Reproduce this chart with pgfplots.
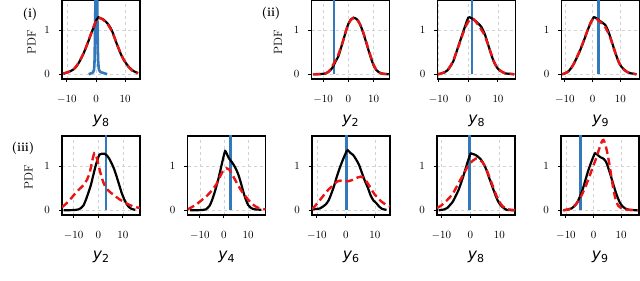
\documentclass[border=0pt]{standalone}
\usepackage{pgfplots}
\pgfplotsset{compat=1.18}
\usepackage{fontspec}
\newfontfamily\dv{DejaVu Sans}
\definecolor{mblue}{RGB}{49,121,186}
\definecolor{mred}{RGB}{235,20,20}
\newcommand{\yl}[1]{{\fontsize{15.5}{18}\selectfont\dv\itshape y\raisebox{-0.22em}{\fontsize{11}{12}\selectfont\upshape #1}}}
\pgfplotsset{
  panel/.style={scale only axis, width=78pt, height=79pt, anchor=south west,
    ymin=-0.107, ymax=1.68, ytick={0,1}, xtick={-10,0,10},
    axis line style={line width=1.2pt},
    tick style={line width=1pt, black}, tick align=outside, major tick length=3.5pt,
    tick pos=left,
    grid=major, major grid style={dashed, gray!35, line width=0.6pt},
    tick label style={font=\fontsize{11}{12}\selectfont},
    xticklabel style={yshift=-9pt},
    yticklabel style={xshift=-5pt},
    label style={font=\fontsize{11}{12}\selectfont},
    xlabel style={yshift=-5pt},
  },
  tru/.style={black, line width=2.2pt, smooth, tension=0.5},
  est/.style={mred, line width=2.4pt, smooth, tension=0.5, dash pattern=on 7.5pt off 4pt},
  obs/.style={mblue, line width=2.6pt},
}
\begin{document}
\begin{tikzpicture}
\path[use as bounding box] (0,0) rectangle (640pt,281pt);
% (i) y8
\begin{axis}[panel, at={(62pt,202pt)}, xmin=-11.7, xmax=15.1, xlabel={\yl{8}}]
\addplot[obs, smooth, tension=0.4] coordinates {(-2.5,0) (-2,0.015) (-1.5,0.025) (-1,0.045) (-0.7,0.1) (-0.5,0.35) (-0.3,1.2) (-0.1,2.2) (0.1,2.5) (0.3,2.1) (0.5,1.1) (0.7,0.35) (1,0.1) (1.5,0.05) (2.5,0.03) (3.2,0.015) (3.8,0)};
\addplot[tru] coordinates {(-11.2,0.01) (-10.5,0.03) (-9.5,0.05) (-8.5,0.08) (-7.5,0.12) (-6.5,0.2) (-5.5,0.31) (-4.5,0.44) (-3.5,0.6) (-2.5,0.77) (-1.5,0.95) (-0.5,1.12) (0.2,1.24) (0.8,1.29) (1.5,1.27) (2.5,1.24) (3.5,1.18) (4.5,1.1) (5.5,0.98) (6.5,0.8) (7.5,0.62) (8.5,0.46) (9.5,0.33) (10.5,0.23) (11.5,0.15) (12.5,0.09) (13.5,0.05) (14.4,0.03)};
\addplot[est] coordinates {(-11.4,0.02) (-10.5,0.03) (-9.5,0.05) (-8.5,0.08) (-7.5,0.13) (-6.5,0.21) (-5.5,0.32) (-4.5,0.45) (-3.5,0.6) (-2.5,0.78) (-1.5,0.96) (-0.5,1.13) (0.2,1.23) (0.8,1.27) (1.5,1.27) (2.5,1.23) (3.5,1.17) (4.5,1.08) (5.5,0.96) (6.5,0.8) (7.5,0.63) (8.5,0.47) (9.5,0.33) (10.5,0.22) (11.5,0.14) (12.5,0.08) (13.5,0.04) (14.5,0.02)};
\end{axis}
% (ii) y2
\begin{axis}[panel, at={(311.5pt,202pt)}, xmin=-14.6, xmax=16.3, xlabel={\yl{2}}]
\addplot[obs] coordinates {(-5.7,0) (-5.7,1.8)};
\addplot[tru] coordinates {(-14,0) (-11,0.005) (-9,0.02) (-8,0.05) (-7,0.1) (-6,0.18) (-5,0.3) (-4,0.4) (-3,0.58) (-2,0.77) (-1,0.97) (0,1.14) (1,1.24) (2,1.28) (3,1.26) (4,1.2) (5,1.08) (6,0.92) (7,0.73) (8,0.54) (9,0.36) (10,0.2) (11,0.1) (12,0.05) (13,0.02) (14,0.01) (16,0)};
\addplot[est] coordinates {(-14,0) (-11,0.005) (-9,0.02) (-8,0.05) (-7,0.12) (-6,0.22) (-5,0.33) (-4,0.44) (-3,0.6) (-2,0.78) (-1,0.97) (0,1.13) (1,1.23) (2,1.27) (3,1.26) (4,1.19) (5,1.08) (6,0.93) (7,0.75) (8,0.56) (9,0.38) (10,0.22) (11,0.11) (12,0.05) (13,0.02) (14,0.01) (16,0)};
\end{axis}
% (ii) y8
\begin{axis}[panel, at={(437.5pt,202pt)}, xmin=-10.35, xmax=15.9, xlabel={\yl{8}}]
\addplot[obs] coordinates {(1.2,0) (1.2,1.8)};
\addplot[tru] coordinates {(-10.2,0) (-9,0.02) (-8,0.04) (-7,0.09) (-6,0.18) (-5,0.3) (-4,0.5) (-3,0.7) (-2,0.9) (-1,1.1) (0,1.28) (0.5,1.29) (1.5,1.25) (2.5,1.2) (3.5,1.14) (4.5,1.06) (5.5,0.92) (6.5,0.71) (7.5,0.5) (8.5,0.3) (9.5,0.17) (10.5,0.09) (11.5,0.05) (12.5,0.02) (14,0.01) (15.5,0)};
\addplot[est] coordinates {(-10.2,0) (-9,0.02) (-8,0.05) (-7,0.1) (-6,0.19) (-5,0.32) (-4,0.5) (-3,0.69) (-2,0.88) (-1,1.06) (0,1.19) (1,1.24) (1.7,1.25) (2.5,1.19) (3.5,1.1) (4.5,1.0) (5.5,0.88) (6.5,0.7) (7.5,0.5) (8.5,0.31) (9.5,0.18) (10.5,0.1) (11.5,0.05) (12.5,0.02) (14,0.01) (15.5,0)};
\end{axis}
% (ii) y9
\begin{axis}[panel, at={(561.5pt,202pt)}, xmin=-11.2, xmax=16.9, xlabel={\yl{9}}]
\addplot[obs] coordinates {(2.1,0) (2.1,1.8)};
\addplot[tru] coordinates {(-11,0) (-10,0.02) (-9,0.05) (-8.5,0.08) (-7.5,0.16) (-6.5,0.27) (-5.5,0.4) (-4.5,0.54) (-3.5,0.7) (-2.5,0.87) (-1.5,1.04) (-0.5,1.19) (0.5,1.29) (1.5,1.26) (2.5,1.21) (3.5,1.17) (4.5,1.12) (5.5,1.0) (6.5,0.82) (7.5,0.62) (8.5,0.43) (9.5,0.26) (10.5,0.16) (11.5,0.1) (12.5,0.05) (14,0.02) (15.8,0)};
\addplot[est] coordinates {(-11,0) (-10,0.02) (-9,0.05) (-8.5,0.08) (-7.5,0.16) (-6.5,0.27) (-5.5,0.41) (-4.5,0.55) (-3.5,0.71) (-2.5,0.88) (-1.5,1.05) (-0.5,1.19) (0.5,1.27) (1.5,1.25) (2.5,1.2) (3.5,1.14) (4.5,1.07) (5.5,0.95) (6.5,0.8) (7.5,0.61) (8.5,0.43) (9.5,0.27) (10.5,0.16) (11.5,0.09) (12.5,0.05) (14,0.02) (15.8,0)};
\end{axis}
% (iii) y2
\begin{axis}[panel, at={(62pt,66pt)}, xmin=-14.7, xmax=16.9, xlabel={\yl{2}}]
\addplot[obs] coordinates {(3.1,0) (3.1,1.8)};
\addplot[tru] coordinates {(-14,0) (-10,0.005) (-8,0.02) (-7,0.05) (-6,0.11) (-5,0.24) (-4,0.4) (-3,0.57) (-2,0.8) (-1,1.02) (0,1.2) (0.5,1.26) (1.5,1.28) (2.5,1.28) (3.5,1.24) (4.5,1.16) (5.5,1.05) (6.5,0.92) (7.5,0.75) (8.5,0.57) (9.5,0.39) (10.5,0.25) (11.5,0.14) (12.5,0.07) (13.5,0.03) (15,0.01)};
\addplot[est] coordinates {(-14.7,0.07) (-13,0.15) (-11,0.27) (-9.5,0.37) (-8,0.46) (-6,0.57) (-4.5,0.7) (-3.5,0.85) (-2.8,1.02) (-2.2,1.18) (-1.6,1.29) (-1,1.25) (-0.3,1.12) (0.4,0.95) (1,0.82) (2,0.64) (3,0.52) (4,0.45) (5,0.4) (6,0.36) (8,0.27) (10,0.2) (12,0.14) (14,0.09) (16.9,0.05)};
\end{axis}
% (iii) y4
\begin{axis}[panel, at={(187.5pt,66pt)}, xmin=-15.1, xmax=17.2, xlabel={\yl{4}}]
\addplot[obs] coordinates {(2.75,0) (2.75,1.8)};
\addplot[tru] coordinates {(-14,0) (-9,0.005) (-7.5,0.02) (-6,0.1) (-5,0.22) (-4,0.38) (-3,0.57) (-2,0.78) (-1,1.02) (0,1.25) (0.5,1.34) (1,1.3) (2,1.18) (3,1.11) (4,1.03) (5,0.93) (6,0.8) (7,0.62) (8,0.42) (9,0.25) (10,0.12) (11,0.06) (12,0.03) (13,0.02) (15.5,0.01)};
\addplot[est] coordinates {(-15.1,0.02) (-13,0.08) (-11,0.15) (-9,0.24) (-7,0.33) (-5,0.45) (-3,0.6) (-2,0.72) (-1,0.83) (0,0.92) (1,0.95) (2,0.93) (3,0.85) (4,0.75) (5,0.65) (6,0.55) (7,0.46) (8,0.38) (9,0.31) (10,0.24) (11,0.18) (12,0.13) (13,0.09) (14,0.06) (15,0.04) (17.2,0.02)};
\end{axis}
% (iii) y6
\begin{axis}[panel, at={(312pt,66pt)}, xmin=-11.7, xmax=15.2, xlabel={\yl{6}}]
\addplot[obs] coordinates {(0.2,0) (0.2,1.8)};
\addplot[tru] coordinates {(-11.5,0.02) (-10,0.03) (-9,0.04) (-8,0.08) (-7,0.13) (-6,0.22) (-5,0.38) (-4,0.57) (-3,0.79) (-2,0.98) (-1,1.15) (0,1.3) (0.6,1.36) (1.5,1.3) (2.5,1.25) (3.5,1.15) (4.5,1.03) (5.5,0.85) (6.5,0.67) (7.5,0.52) (8.5,0.34) (9.5,0.22) (10.5,0.16) (11.5,0.08) (12.5,0.03) (14,0.01)};
\addplot[est] coordinates {(-11.7,0.03) (-11,0.07) (-10,0.15) (-9,0.23) (-8,0.31) (-7,0.4) (-6,0.47) (-5,0.53) (-4,0.6) (-3,0.65) (-2,0.67) (-1,0.66) (0,0.66) (1,0.66) (2,0.68) (3,0.71) (4,0.74) (5,0.76) (6,0.74) (7,0.66) (8,0.56) (9,0.45) (10,0.35) (11,0.28) (12,0.21) (13,0.16) (14,0.12) (15.2,0.09)};
\end{axis}
% (iii) y8
\begin{axis}[panel, at={(437pt,66pt)}, xmin=-11.5, xmax=15.4, xlabel={\yl{8}}]
\addplot[obs] coordinates {(-0.2,0) (-0.2,1.8)};
\addplot[tru] coordinates {(-10.9,0) (-9,0.02) (-8,0.05) (-7,0.12) (-6,0.2) (-5,0.33) (-4,0.47) (-3,0.66) (-2,0.86) (-1,1.08) (0,1.27) (0.5,1.28) (1.5,1.26) (2.5,1.22) (3.5,1.16) (4.5,1.06) (5.5,0.92) (6.5,0.73) (7.5,0.55) (8.5,0.37) (9.5,0.21) (10.5,0.11) (11.5,0.05) (12.5,0.01) (15,0)};
\addplot[est] coordinates {(-11.5,0.05) (-10,0.11) (-9,0.17) (-8,0.23) (-7,0.3) (-6,0.38) (-5,0.5) (-4,0.62) (-3,0.74) (-2,0.86) (-1,0.98) (0,1.07) (1,1.13) (2,1.17) (3,1.15) (4,1.1) (5,1.0) (6,0.85) (7,0.68) (8,0.5) (9,0.33) (10,0.2) (11,0.1) (12,0.05) (13,0.02) (14.3,0.01) (15.4,0)};
\end{axis}
% (iii) y9
\begin{axis}[panel, at={(561pt,66pt)}, xmin=-11.8, xmax=16.5, xlabel={\yl{9}}]
\addplot[obs] coordinates {(-4.8,0) (-4.8,1.8)};
\addplot[tru] coordinates {(-11,0) (-9,0.02) (-8,0.04) (-7,0.09) (-6,0.17) (-5,0.3) (-4,0.46) (-3,0.67) (-2,0.88) (-1,1.06) (0,1.22) (0.6,1.29) (1.5,1.25) (2.5,1.2) (3.5,1.17) (4.5,1.1) (5.5,0.93) (6.5,0.73) (7.5,0.52) (8.5,0.33) (9.5,0.18) (10.5,0.09) (11.5,0.04) (13,0.01) (16,0)};
\addplot[est] coordinates {(-11,0) (-9,0.02) (-8,0.05) (-7,0.1) (-6,0.16) (-5,0.26) (-4,0.38) (-3,0.52) (-2,0.68) (-1,0.85) (0,1.02) (1,1.18) (2,1.38) (3,1.55) (3.6,1.59) (4.2,1.5) (5,1.3) (6,0.95) (7,0.55) (8,0.25) (9,0.1) (10,0.05) (11,0.02) (13,0.01) (16,0)};
\end{axis}
\node[font=\bfseries\fontsize{12.5}{14}\selectfont] at (30pt,267pt) {(i)};
\node[font=\bfseries\fontsize{12.5}{14}\selectfont] at (271pt,268pt) {(ii)};
\node[font=\bfseries\fontsize{12.5}{14}\selectfont] at (23pt,133pt) {(iii)};
\node[rotate=90, font=\fontsize{12}{14}\selectfont] at (31.5pt,239pt) {PDF};
\node[rotate=90, font=\fontsize{12}{14}\selectfont] at (278pt,239pt) {PDF};
\node[rotate=90, font=\fontsize{12}{14}\selectfont] at (28.5pt,104pt) {PDF};
\end{tikzpicture}
\end{document}
